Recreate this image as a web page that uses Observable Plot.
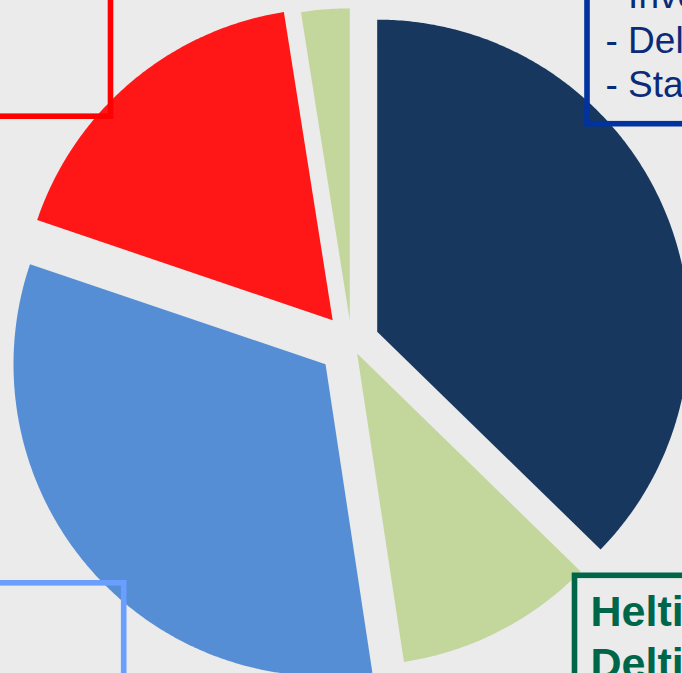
<!DOCTYPE html>
<html><head><meta charset="utf-8">
<script src="https://cdn.jsdelivr.net/npm/d3@7"></script>
<script src="https://cdn.jsdelivr.net/npm/@observablehq/plot@0.6"></script>
<style>html,body{margin:0;padding:0;background:#EBEBEB;overflow:hidden}#chart svg{display:block}</style>
</head><body><div id="chart"></div>
<script>
// ---- data ----
const categories = ["Investoinnit", "Helti", "Sininen", "Punainen", "Delti"];
const values = [37.3, 10.3, 32.6, 17.3, 2.5];
const navyBoxLines = ["- Investoinnit", "- Delta", "- Status"];
const greenBoxLines = ["Helti", "Delti"];

// ---- styles ----
const sliceColors = ["#17375E", "#C3D69B", "#558ED5", "#FF1616", "#C3D69B"];
const explode = [27.9, 12.3, 33.9, 29.2, 22.2];

const W = 682, H = 673, cx = 351, cy = 342, R = 312;
const arcs = d3.pie().sort(null).value(d => d)(values);
const pts = [];
arcs.forEach((a, i) => {
  const mid = (a.startAngle + a.endAngle) / 2;
  const ox = cx + explode[i] * Math.sin(mid), oy = cy - explode[i] * Math.cos(mid);
  pts.push({cat: categories[i], x: ox, y: oy});
  const n = Math.max(2, Math.ceil((a.endAngle - a.startAngle) / (Math.PI / 360)));
  for (let k = 0; k <= n; k++) {
    const t = a.startAngle + (a.endAngle - a.startAngle) * k / n;
    pts.push({cat: categories[i], x: ox + R * Math.sin(t), y: oy - R * Math.cos(t)});
  }
});

const boxes = [
  {x1: -60, y1: -60, x2: 110.5, y2: 116.2, c: "#FF0000"},
  {x1: -60, y1: 582.8, x2: 123.7, y2: 760, c: "#6A9EFF"},
  {x1: 587, y1: -60, x2: 760, y2: 123.7, c: "#0033A0"},
  {x1: 574.5, y1: 575.3, x2: 760, y2: 760, c: "#006649"}
];

const navyText = navyBoxLines.map((t, i) => ({t, x: 605, y: 7.5 + i * 44.5}));
const greenText = greenBoxLines.map((t, i) => ({t, x: 590, y: 625 + i * 52.7}));

const plot = Plot.plot({
  width: W, height: H,
  margin: 0,
  style: {background: "#EBEBEB", overflow: "hidden"},
  x: {domain: [0, W], range: [0, W], axis: null},
  y: {domain: [0, H], range: [0, H], axis: null},
  color: {domain: categories, range: sliceColors},
  marks: [
    Plot.line(pts, {x: "x", y: "y", z: "cat", fill: "cat", stroke: null, curve: "linear-closed", clip: true}),
    ...boxes.map(b => Plot.rect([b], {x1: "x1", y1: "y1", x2: "x2", y2: "y2", fill: "none", stroke: b.c, strokeWidth: 5.6, clip: true})),
    Plot.text(navyText, {x: "x", y: "y", text: "t", textAnchor: "start", lineAnchor: "bottom", fontSize: 37, fontFamily: "Liberation Sans, Arial, sans-serif", fill: "#0B2A78", clip: true}),
    Plot.text(greenText, {x: "x", y: "y", text: "t", textAnchor: "start", lineAnchor: "bottom", fontSize: 43, fontWeight: "bold", fontFamily: "Liberation Sans, Arial, sans-serif", fill: "#006649", clip: true})
  ]
});
document.getElementById("chart").appendChild(plot);
</script>
</body></html>
